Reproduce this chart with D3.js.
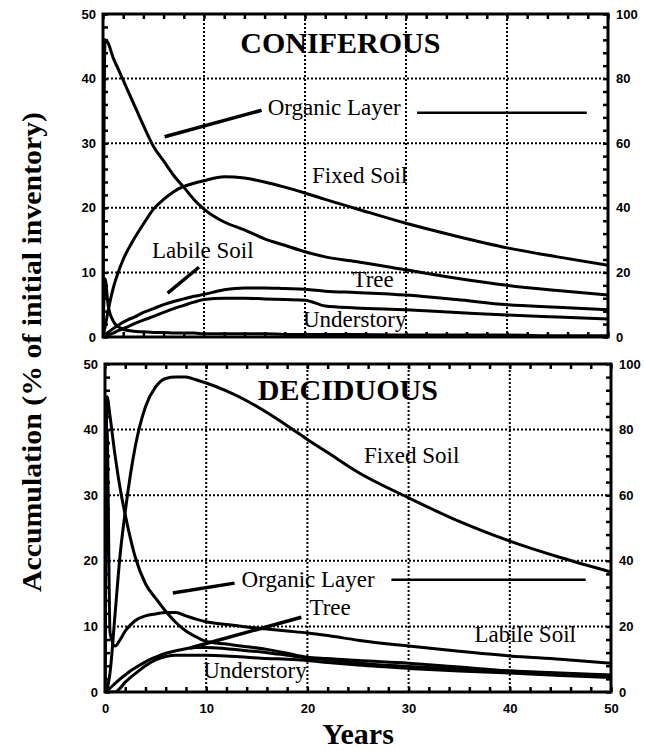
<!DOCTYPE html>
<html>
<head>
<meta charset="utf-8">
<script src="https://cdn.jsdelivr.net/npm/d3@7"></script>
<style>
  body { margin: 0; background: #fff; }
  .tick text { font-family: "Liberation Sans", Arial, sans-serif; font-weight: bold; font-size: 13px; fill: #000; }
  .lbl { font-family: "Liberation Serif", "Times New Roman", serif; font-size: 23px; fill: #000; }
</style>
</head>
<body>
<div id="chart"></div>
<script>
// sample years shared by every series
var years = [0, 0.2, 0.5, 1, 1.5, 2, 2.5, 3, 4, 5, 6, 7, 8, 9, 10, 12, 14, 16, 18, 20, 22, 25, 30, 35, 40, 45, 50];

// coniferous stand (organic layer read on right axis, others on left axis)
var conOrganic  = [0, 92, 91, 86.5, 83, 79.5, 76, 72.5, 65.5, 59, 54.5, 50, 46.4, 42.6, 39.6, 35.6, 33.2, 30.4, 28.4, 26.4, 24.8, 23.4, 20.8, 18.2, 16, 14.4, 13];
var conFixed    = [0, 1.5, 4, 7.5, 10, 12, 13.6, 15, 17.5, 19.8, 21.3, 22.5, 23.3, 23.8, 24.2, 24.8, 24.6, 24, 23.2, 22.3, 21.3, 19.9, 17.6, 15.6, 13.8, 12.4, 11.1];
var conLabile   = [0, 9, 5, 2.5, 1.6, 1.2, 1, 0.9, 0.8, 0.7, 0.7, 0.6, 0.6, 0.6, 0.5, 0.5, 0.5, 0.5, 0.4, 0.4, 0.4, 0.4, 0.3, 0.3, 0.3, 0.2, 0.2];
var conTree     = [0, 0.3, 0.7, 1.3, 1.8, 2.3, 2.7, 3.0, 3.8, 4.4, 5.0, 5.5, 5.9, 6.3, 6.6, 7.3, 7.6, 7.6, 7.5, 7.4, 7.1, 6.9, 6.5, 5.8, 5.0, 4.6, 4.2];
var conUnder    = [0, 0.1, 0.3, 0.6, 1.0, 1.3, 1.6, 2.0, 2.6, 3.2, 3.8, 4.4, 4.9, 5.4, 5.8, 6.0, 6.0, 5.9, 5.8, 5.7, 4.8, 4.5, 4.2, 3.8, 3.4, 3.1, 2.8];

// deciduous stand
var decOrganic  = [0, 90, 84, 72, 62, 54, 47, 41, 33, 28.6, 24.6, 21.2, 18.6, 16.8, 15.4, 14.6, 13.8, 13.0, 11.8, 10.6, 10.2, 9.6, 8.8, 7.6, 6.4, 5.6, 5.0];
var decFixed    = [0, 0.5, 3, 12, 21, 27.5, 33, 37.5, 43.5, 46.5, 47.8, 48, 48, 47.6, 47.1, 45.9, 44.4, 42.6, 40.6, 38.5, 36.5, 33.5, 29.6, 26, 23, 20.5, 18.3];
var decLabile   = [0, 40, 9, 7, 8, 9.3, 10.2, 10.9, 11.6, 11.9, 12.1, 12.1, 11.6, 11.1, 10.7, 10.3, 9.9, 9.6, 9.3, 9.0, 8.6, 7.9, 7.0, 6.2, 5.5, 5.0, 4.4];
var decTree     = [0, 0.2, 0.6, 1.3, 2.0, 2.6, 3.2, 3.7, 4.6, 5.3, 5.9, 6.3, 6.6, 6.8, 6.8, 6.6, 6.3, 6.0, 5.6, 5.2, 4.9, 4.4, 3.9, 3.5, 3.2, 2.9, 2.6];
var decUnder    = [0, 0, 0, 0, 0.6, 1.5, 2.2, 2.8, 4.0, 4.9, 5.4, 5.6, 5.6, 5.6, 5.6, 5.5, 5.3, 5.1, 5.0, 4.8, 4.5, 4.1, 3.6, 3.2, 2.9, 2.5, 2.2];

var leftTicks = [0, 10, 20, 30, 40, 50];
var rightTicks = [0, 20, 40, 60, 80, 100];
var yearTicks = [0, 10, 20, 30, 40, 50];

var d3 = window.d3;
var W = 645, H = 751;
var svg = d3.select("#chart").append("svg")
    .attr("width", W).attr("height", H)
    .style("background", "#fff");

function drawPanel(p) {
    var x = d3.scaleLinear().domain([0, 50]).range([p.x0, p.x1]);
    var y = d3.scaleLinear().domain([0, 50]).range([p.y0, p.y1]);
    var yR = d3.scaleLinear().domain([0, 100]).range([p.y0, p.y1]);
    var g = svg.append("g").attr("class", "panel");

    g.append("clipPath").attr("id", "clip" + p.id)
        .append("rect")
        .attr("x", p.x0).attr("y", p.y1)
        .attr("width", p.x1 - p.x0).attr("height", p.y0 - p.y1);

    // dotted grid
    var grid = g.append("g").attr("stroke", "#000").attr("stroke-width", 2).attr("stroke-dasharray", "2,2");
    [10, 20, 30, 40].forEach(function (v) {
        grid.append("line").attr("x1", x(v)).attr("x2", x(v)).attr("y1", p.y0).attr("y2", p.y1);
        grid.append("line").attr("x1", p.x0).attr("x2", p.x1).attr("y1", y(v)).attr("y2", y(v));
    });

    // axes with inward minor ticks
    var minorX = d3.range(0, 51, 2);
    g.append("g").attr("transform", "translate(0," + p.y0 + ")")
        .call(d3.axisBottom(x).tickValues(minorX).tickSize(-5).tickPadding(p.xLabels ? 12 : 0)
            .tickFormat(function (d) { return (p.xLabels && yearTicks.indexOf(d) >= 0) ? d : ""; }));
    g.append("g").attr("transform", "translate(0," + p.y1 + ")")
        .call(d3.axisTop(x).tickValues(minorX).tickSize(-5).tickFormat(""));
    g.append("g").attr("transform", "translate(" + p.x0 + ",0)")
        .call(d3.axisLeft(y).tickValues(d3.range(0, 51, 2)).tickSize(-5).tickPadding(7)
            .tickFormat(function (d) { return leftTicks.indexOf(d) >= 0 ? d : ""; }));
    g.append("g").attr("transform", "translate(" + p.x1 + ",0)")
        .call(d3.axisRight(yR).tickValues(d3.range(0, 101, 4)).tickSize(-5).tickPadding(8)
            .tickFormat(function (d) { return rightTicks.indexOf(d) >= 0 ? d : ""; }));
    g.selectAll(".domain").remove();
    g.selectAll(".tick line").attr("stroke", "#000").attr("stroke-width", 2.5);

    // frame
    g.append("rect")
        .attr("x", p.x0).attr("y", p.y1)
        .attr("width", p.x1 - p.x0).attr("height", p.y0 - p.y1)
        .attr("fill", "none").attr("stroke", "#000").attr("stroke-width", 3);

    // curves
    var curves = g.append("g").attr("clip-path", "url(#clip" + p.id + ")");
    p.series.forEach(function (s) {
        var sc = s.right ? yR : y;
        var line = d3.line()
            .x(function (d, i) { return x(years[i]); })
            .y(function (d) { return sc(d); })
            .curve(d3.curveMonotoneX);
        curves.append("path")
            .attr("d", line(s.values))
            .attr("fill", "none")
            .attr("stroke", "#000")
            .attr("stroke-width", 3)
            .attr("stroke-linejoin", "round");
    });

    // title
    g.append("text")
        .attr("x", x(p.title.t)).attr("y", y(p.title.v))
        .attr("text-anchor", "middle")
        .style("font-family", "'Liberation Serif', 'Times New Roman', serif")
        .style("font-weight", "bold").style("font-size", "30px")
        .text(p.title.text);

    // labels and leader lines
    p.labels.forEach(function (l) {
        g.append("text").attr("class", "lbl")
            .attr("x", x(l.t)).attr("y", y(l.v))
            .text(l.text);
    });
    p.leaders.forEach(function (l) {
        g.append("line")
            .attr("x1", x(l[0])).attr("y1", y(l[1]))
            .attr("x2", x(l[2])).attr("y2", y(l[3]))
            .attr("stroke", "#000").attr("stroke-width", l[4]);
    });
}

drawPanel({
    id: 1, x0: 103, x1: 608, y0: 337, y1: 14, xLabels: false,
    series: [
        { values: conOrganic, right: true },
        { values: conFixed },
        { values: conLabile },
        { values: conTree },
        { values: conUnder }
    ],
    title: { text: "CONIFEROUS", t: 23.5, v: 44 },
    labels: [
        { text: "Organic Layer", t: 16.3, v: 34.4 },
        { text: "Fixed Soil", t: 20.7, v: 23.8 },
        { text: "Labile Soil", t: 4.85, v: 12.2 },
        { text: "Tree", t: 24.7, v: 7.7 },
        { text: "Understory", t: 19.8, v: 1.5 }
    ],
    leaders: [
        [6.1, 31, 15.7, 35.1, 3.5],
        [31.1, 34.7, 47.9, 34.7, 2.5],
        [6.4, 6.8, 9.5, 10.8, 3.5]
    ]
});

drawPanel({
    id: 2, x0: 105, x1: 611, y0: 692, y1: 364, xLabels: true,
    series: [
        { values: decOrganic, right: true },
        { values: decFixed },
        { values: decLabile },
        { values: decTree },
        { values: decUnder }
    ],
    title: { text: "DECIDUOUS", t: 24, v: 44.5 },
    labels: [
        { text: "Fixed Soil", t: 25.6, v: 34.9 },
        { text: "Organic Layer", t: 13.5, v: 16 },
        { text: "Tree", t: 20.2, v: 11.7 },
        { text: "Understory", t: 9.7, v: 2.1 },
        { text: "Labile Soil", t: 36.5, v: 7.6 }
    ],
    leaders: [
        [6.7, 15.1, 12.8, 16.6, 3.5],
        [28.3, 17.1, 47.5, 17.1, 2.5],
        [8.4, 6.7, 19.4, 11.4, 3.5]
    ]
});

// shared axis titles
svg.append("text")
    .attr("x", 358).attr("y", 744)
    .attr("text-anchor", "middle")
    .style("font-family", "'Liberation Serif', 'Times New Roman', serif")
    .style("font-weight", "bold").style("font-size", "30px")
    .text("Years");

svg.append("text")
    .attr("transform", "translate(41,352) rotate(-90)")
    .attr("text-anchor", "middle")
    .attr("textLength", 480)
    .attr("lengthAdjust", "spacingAndGlyphs")
    .style("font-family", "'Liberation Serif', 'Times New Roman', serif")
    .style("font-weight", "bold").style("font-size", "27px")
    .text("Accumulation (% of initial inventory)");
</script>
</body>
</html>
